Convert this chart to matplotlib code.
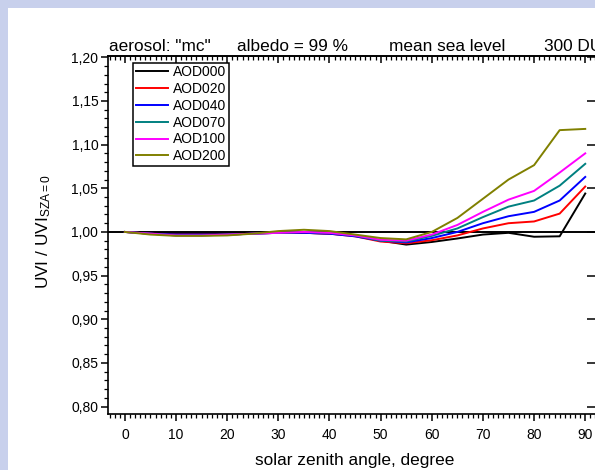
import matplotlib
matplotlib.use("Agg")
import matplotlib.pyplot as plt
from matplotlib.ticker import MultipleLocator, FuncFormatter
from matplotlib.patches import Rectangle

plt.rcParams['font.family'] = ['Liberation Sans', 'DejaVu Sans']
plt.rcParams['mathtext.fontset'] = 'custom'
plt.rcParams['mathtext.rm'] = 'Liberation Sans'
plt.rcParams['mathtext.it'] = 'Liberation Sans'

sza = [0, 5, 10, 15, 20, 25, 30, 35, 40, 45, 50, 55, 60, 65, 70, 75, 80, 85, 90]

aod000 = [1.000, 0.999, 0.998, 0.998, 0.998, 0.999, 0.999, 0.999, 0.998, 0.996, 0.990, 0.9855,
          0.9885, 0.9925, 0.997, 0.999, 0.9945, 0.995, 1.044]
aod020 = [1.000, 0.998, 0.997, 0.997, 0.997, 0.998, 0.999, 0.999, 0.998, 0.995, 0.989, 0.987,
          0.9905, 0.996, 1.004, 1.010, 1.012, 1.021, 1.052]
aod040 = [1.000, 0.998, 0.997, 0.997, 0.997, 0.998, 0.999, 0.999, 0.998, 0.995, 0.990, 0.988,
          0.993, 1.000, 1.010, 1.018, 1.023, 1.036, 1.063]
aod070 = [1.000, 0.998, 0.996, 0.996, 0.997, 0.998, 0.999, 1.000, 0.999, 0.996, 0.990, 0.989,
          0.9955, 1.004, 1.017, 1.029, 1.036, 1.053, 1.078]
aod100 = [1.000, 0.998, 0.996, 0.996, 0.997, 0.998, 0.999, 1.000, 0.999, 0.996, 0.991, 0.990,
          0.997, 1.008, 1.023, 1.037, 1.047, 1.068, 1.090]
aod200 = [1.000, 0.997, 0.9955, 0.9955, 0.996, 0.998, 1.001, 1.0025, 1.001, 0.997, 0.993, 0.9915,
          1.000, 1.0160, 1.038, 1.060, 1.0765, 1.1166, 1.118]

series = [("AOD000", aod000, "#000000"),
          ("AOD020", aod020, "#ff0000"),
          ("AOD040", aod040, "#0000ff"),
          ("AOD070", aod070, "#008080"),
          ("AOD100", aod100, "#ff00ff"),
          ("AOD200", aod200, "#808000")]

header = [("aerosol: \"mc\"", 109), ("albedo = 99 %", 237),
          ("mean sea level", 389), ("300 DU", 543.5)]

W, H = 595, 470
fig = plt.figure(figsize=(W / 100, H / 100), dpi=100)
fig.patch.set_facecolor("#c8d0ec")
fig.patches.append(Rectangle((8 / W, 0), 1, (H - 8) / H, transform=fig.transFigure,
                             facecolor="white", edgecolor="none", zorder=-10))

left, right, top, bottom = 108, 597, 56, 414
ax = fig.add_axes([left / W, (H - bottom) / H, (right - left) / W, (bottom - top) / H])
ax.set_zorder(5)
ax.set_facecolor("white")

ax.axhline(1.0, color="black", lw=1.4, zorder=1)
for name, vals, col in series:
    ax.plot(sza, vals, color=col, lw=1.4, label=name, zorder=2)

ax.set_xlim(-3.3, 92.3)
ax.set_ylim(0.7915, 1.2015)
ax.xaxis.set_major_locator(MultipleLocator(10))
ax.xaxis.set_minor_locator(MultipleLocator(1))
ax.yaxis.set_major_locator(MultipleLocator(0.05))
ax.yaxis.set_minor_locator(MultipleLocator(0.01))
ax.yaxis.set_major_formatter(FuncFormatter(lambda v, p: f"{v:.2f}".replace(".", ",")))

ax.tick_params(axis="x", which="both", direction="out", bottom=True, top=False,
               labelsize=10, pad=5)
ax.tick_params(axis="x", which="major", length=5, width=1.1)
ax.tick_params(axis="x", which="minor", length=3, width=0.9)
ax.tick_params(axis="y", which="both", direction="out", left=True, right=False,
               labelsize=10, pad=2)
ax.tick_params(axis="y", which="major", length=5, width=1.1)
ax.tick_params(axis="y", which="minor", length=3, width=0.9)

# inward ticks on top and right via secondary axes
axt = ax.secondary_xaxis("top")
axt.xaxis.set_major_locator(MultipleLocator(10))
axt.xaxis.set_minor_locator(MultipleLocator(1))
axt.tick_params(axis="x", which="both", direction="in", labeltop=False)
axt.tick_params(axis="x", which="major", length=5, width=1.1)
axt.tick_params(axis="x", which="minor", length=3, width=0.9)
axr = ax.secondary_yaxis("right")
axr.yaxis.set_major_locator(MultipleLocator(0.05))
axr.yaxis.set_minor_locator(MultipleLocator(0.01))
axr.tick_params(axis="y", which="both", direction="in", labelright=False)
axr.tick_params(axis="y", which="major", length=7, width=1.1)
axr.tick_params(axis="y", which="minor", length=0, width=0)

for sp in ax.spines.values():
    sp.set_linewidth(1.2)
for a in (axt, axr):
    for sp in a.spines.values():
        sp.set_linewidth(1.2)

fig.text(355 / W, (H - 461) / H, "solar zenith angle, degree",
         ha="center", va="center", fontsize=12.4)
fig.text(44 / W, (H - 232) / H, r"UVI / UVI$_{\mathrm{SZA=0}}$", rotation=90,
         ha="center", va="center", fontsize=12.4)

for txt, xp in header:
    fig.text(xp / W, (H - 51) / H, txt, ha="left", va="baseline", fontsize=12.4)

leg = ax.legend(loc="upper left", bbox_to_anchor=(133 / W, (H - 62.5) / H),
                bbox_transform=fig.transFigure, borderaxespad=0, fontsize=10,
                frameon=True, fancybox=False, edgecolor="black", framealpha=1,
                handlelength=2.3, handletextpad=0.35, borderpad=0.2,
                labelspacing=0.2)
leg.get_frame().set_linewidth(1.1)

fig.savefig("out.png", dpi=100, facecolor=fig.get_facecolor())
